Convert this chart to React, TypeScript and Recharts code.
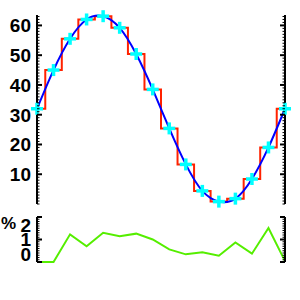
import { ComposedChart, Line, XAxis, YAxis } from "recharts"

const idx = [0, 1, 2, 3, 4, 5, 6, 7, 8, 9, 10, 11, 12, 13, 14, 15]
const samples = [32, 45, 55.5, 62, 63.1, 59.2, 50.4, 38.5, 25.4, 13.3, 4.4, 0.8, 1.8, 8.4, 19, 32]
const pct = [0, 0, 1.23, 0.7, 1.3, 1.15, 1.26, 1.0, 0.56, 0.34, 0.43, 0.28, 0.87, 0.37, 1.51, 0.04]

const topMajors = [10, 20, 30, 40, 50, 60]
const bottomMajors = [0, 1, 2]
const topTicks = Array.from({ length: 64 }, (_, i) => i)
const bottomTicks = Array.from({ length: 21 }, (_, i) => i / 10)

const topData = idx.map((i, k) => ({ i, v: samples[k] }))
const bottomData = idx.map((i, k) => ({ i, p: pct[k] }))

const font = '"Liberation Sans", Arial, sans-serif'

function AxisTick(props: any) {
  const { x, y, payload, side, majors, labels, lo, hi } = props
  const v = payload.value
  const major = majors.includes(v)
  const dir = side === "left" ? 1 : -1
  const len = major ? 5 : 2.5
  const ly = Math.min(Math.max(y, lo), hi)
  return (
    <g>
      <line x1={x} x2={x + dir * len} y1={y} y2={y} stroke="#000" strokeWidth={major ? 2 : 1} />
      {labels && major && (
        <text
          x={x - 6}
          y={ly}
          dy="0.36em"
          textAnchor="end"
          fontFamily={font}
          fontWeight={700}
          fontSize={19}
          fill="#000"
        >
          {v}
        </text>
      )}
    </g>
  )
}

function Star(props: any) {
  const { cx, cy, index } = props
  if (cx == null || cy == null) return <g key={index} />
  return (
    <g key={index}>
      <line x1={cx - 6} x2={cx + 6} y1={cy} y2={cy} stroke="#00ffff" strokeWidth={3.5} />
      <line x1={cx} x2={cx} y1={cy - 6} y2={cy + 6} stroke="#00ffff" strokeWidth={3.5} />
    </g>
  )
}

export default function App() {
  return (
    <div style={{ position: "absolute", left: 0, top: 0, width: 300, height: 300, background: "#fff" }}>
      <div style={{ position: "absolute", left: 0, top: 0 }}>
        <ComposedChart width={300} height={210} data={topData} margin={{ top: 15, right: 0, bottom: 6, left: 0 }}>
          <XAxis dataKey="i" type="number" domain={[0, 15]} hide />
          <YAxis
            yAxisId="l"
            width={37}
            domain={[0, 63.5]}
            ticks={topTicks}
            interval={0}
            tickSize={0}
            tickMargin={0}
            axisLine={{ stroke: "#000", strokeWidth: 2 }}
            tick={(p: any) => <AxisTick {...p} side="left" majors={topMajors} labels lo={0} hi={300} />}
          />
          <YAxis
            yAxisId="r"
            orientation="right"
            width={15}
            domain={[0, 63.5]}
            ticks={topTicks}
            interval={0}
            tickSize={0}
            tickMargin={0}
            axisLine={{ stroke: "#000", strokeWidth: 2 }}
            tick={(p: any) => <AxisTick {...p} side="right" majors={topMajors} />}
          />
          <Line yAxisId="l" dataKey="v" type="step" stroke="#ff2200" strokeWidth={2} dot={false} isAnimationActive={false} />
          <Line yAxisId="l" dataKey="v" type="natural" stroke="#0000ff" strokeWidth={2} dot={false} isAnimationActive={false} />
          <Line yAxisId="r" dataKey="v" stroke="none" dot={(p: any) => <Star {...p} />} isAnimationActive={false} />
        </ComposedChart>
      </div>
      <div style={{ position: "absolute", left: 0, top: 210 }}>
        <ComposedChart width={300} height={90} data={bottomData} margin={{ top: 7, right: 0, bottom: 38, left: 0 }}>
          <XAxis dataKey="i" type="number" domain={[0, 15]} hide />
          <YAxis
            yAxisId="l"
            width={37}
            domain={[0, 2]}
            ticks={bottomTicks}
            interval={0}
            tickSize={0}
            tickMargin={0}
            axisLine={{ stroke: "#000", strokeWidth: 2 }}
            tick={(p: any) => <AxisTick {...p} side="left" majors={bottomMajors} labels lo={15} hi={44} />}
          />
          <YAxis
            yAxisId="r"
            orientation="right"
            width={15}
            domain={[0, 2]}
            ticks={bottomTicks}
            interval={0}
            tickSize={0}
            tickMargin={0}
            axisLine={{ stroke: "#000", strokeWidth: 2 }}
            tick={(p: any) => <AxisTick {...p} side="right" majors={bottomMajors} />}
          />
          <Line yAxisId="l" dataKey="p" type="linear" stroke="#55ee00" strokeWidth={2} dot={false} isAnimationActive={false} />
          <Line yAxisId="r" dataKey="p" stroke="none" dot={false} activeDot={false} isAnimationActive={false} />
        </ComposedChart>
      </div>
      <div
        style={{
          position: "absolute",
          left: 1,
          top: 214,
          fontFamily: font,
          fontWeight: 700,
          fontSize: 17,
          lineHeight: "20px",
        }}
      >
        %
      </div>
    </div>
  )
}
